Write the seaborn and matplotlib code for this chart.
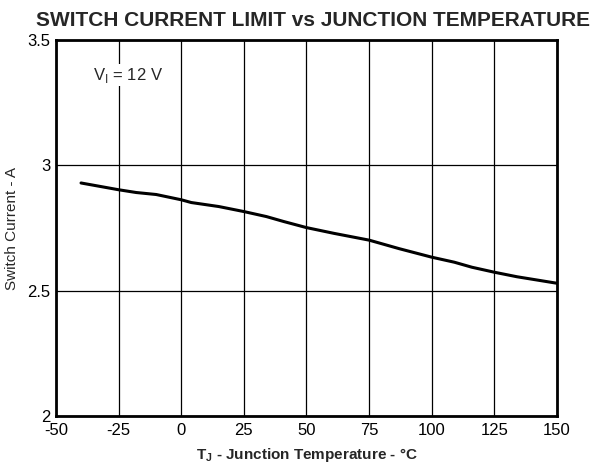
import matplotlib
matplotlib.use("Agg")
import matplotlib.pyplot as plt
import seaborn as sns
import pandas as pd

# junction temperature (C) and switch current limit (A)
temp_c = [-40, -25, -18, -10, 0, 4, 15, 25, 34, 41, 50, 61, 75, 87, 100, 109, 116, 125, 134, 150]
current_a = [2.93, 2.903, 2.892, 2.884, 2.863, 2.852, 2.836, 2.816, 2.796, 2.776, 2.752,
             2.729, 2.702, 2.668, 2.634, 2.614, 2.594, 2.574, 2.556, 2.53]

x_ticks = [-50, -25, 0, 25, 50, 75, 100, 125, 150]
y_ticks = [2, 2.5, 3, 3.5]

df = pd.DataFrame({"T": temp_c, "I": current_a})

sns.set_style("white")
plt.rcParams["font.family"] = ["Liberation Sans", "DejaVu Sans"]

fig = plt.figure(figsize=(6.04, 4.66), dpi=100)
ax = fig.add_axes([0.0927, 0.107, 0.8295, 0.807])

sns.lineplot(data=df, x="T", y="I", ax=ax, color="black", linewidth=2.2)

ax.set_xlim(-50, 150)
ax.set_ylim(2, 3.5)
ax.set_xticks(x_ticks)
ax.set_yticks(y_ticks)
ax.set_xticklabels([str(t) for t in x_ticks])
ax.set_yticklabels(["2", "2.5", "3", "3.5"])
ax.grid(True, color="black", linewidth=0.9)
ax.tick_params(axis="x", length=0, pad=5, labelsize=12, colors="black")
ax.tick_params(axis="y", length=0, pad=4, labelsize=12, colors="black")

for s in ax.spines.values():
    s.set_color("black")
    s.set_linewidth(2)

ax.set_xlabel(r"T$_\mathregular{J}$ - Junction Temperature - °C", fontsize=11,
              fontweight="bold", labelpad=6)
ax.set_ylabel("Switch Current - A", fontsize=11, labelpad=6)

ax.text(-35.2, 3.36, r"V$_\mathregular{I}$ = 12 V", fontsize=12, va="center", ha="left",
        bbox=dict(facecolor="white", edgecolor="none", pad=1))

fig.text(0.518, 0.957, "SWITCH CURRENT LIMIT vs JUNCTION TEMPERATURE",
         ha="center", va="center", fontsize=15, fontweight="bold")

fig.savefig("out.png", dpi=100)
